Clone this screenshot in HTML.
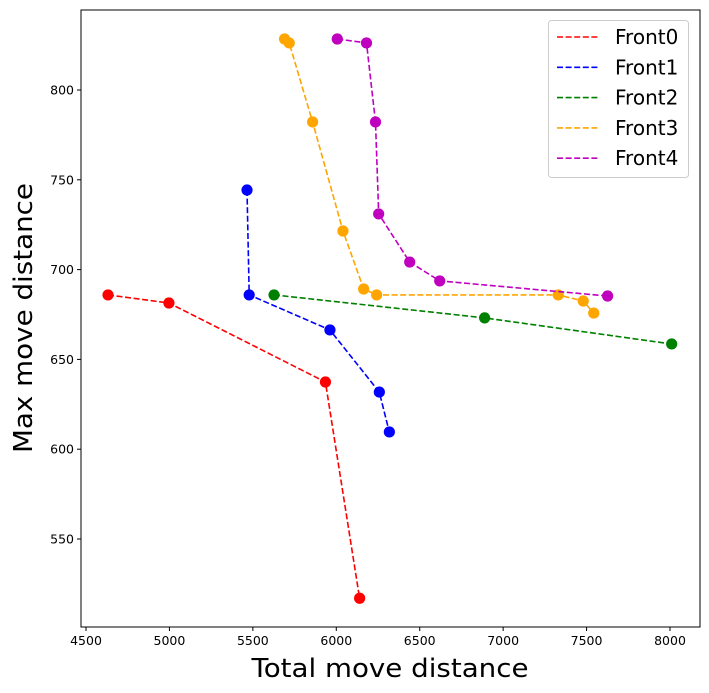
<!DOCTYPE html>
<html><head><meta charset="utf-8"><style>
body{margin:0;background:#fff;}
svg{display:block;font-family:"DejaVu Sans","Liberation Sans",sans-serif;}
</style></head><body>
<svg id="chart" width="709" height="693" viewBox="0 0 709 693" xmlns="http://www.w3.org/2000/svg">
<rect x="0" y="0" width="709" height="693" fill="#fff"/>
<g id="series"></g>
<g id="axes"></g>
</svg>
<script>
const xTicks=[4500,5000,5500,6000,6500,7000,7500,8000];
const yTicks=[550,600,650,700,750,800];
const seriesNames=["Front0","Front1","Front2","Front3","Front4"];
const seriesColors=["#ff0000","#0000ff","#008000","#ffa500","#bf00bf"];
const front0X=[4632,4997,5935,6140];
const front0Y=[685.9,681.4,637.4,517];
const front1X=[5465,5478,5962,6258,6318];
const front1Y=[744.3,685.9,666.4,631.8,609.6];
const front2X=[5627,6889,8010];
const front2Y=[685.9,673.1,658.6];
const front3X=[5690,5718,5858,6040,6164,6242,7330,7480,7543];
const front3Y=[828.4,826.2,782.2,721.5,689.2,685.9,685.9,682.5,675.8];
const front4X=[6006,6181,6235,6254,6440,6620,7626];
const front4Y=[828.4,826.2,782.2,731,704.2,693.7,685.3];

const NS="http://www.w3.org/2000/svg";
const L=81,R=700,T=10,B=627;
function x(v){return 86+(v-4500)*(584/3500);}
function y(v){return 90+(800-v)*(449/250);}
function mk(tag,attrs,parent){const e=document.createElementNS(NS,tag);for(const k in attrs)e.setAttribute(k,attrs[k]);parent.appendChild(e);return e;}

const sg=document.getElementById('series');
const xs=[front0X,front1X,front2X,front3X,front4X];
const ys=[front0Y,front1Y,front2Y,front3Y,front4Y];
for(let s=0;s<5;s++){
  const g=mk('g',{},sg);
  
  
  const pts=xs[s].map((v,i)=>x(v).toFixed(1)+','+y(ys[s][i]).toFixed(1)).join(' ');
  const pl=mk('polyline',{points:pts,fill:'none',stroke:seriesColors[s],'stroke-width':1.6,'stroke-dasharray':'6,2.6'},g);
  
  
  xs[s].forEach((v,i)=>{
    const c=mk('circle',{cx:x(v),cy:y(ys[s][i]),r:5.6,fill:seriesColors[s]},g);
    
    
  });
}

const ag=document.getElementById('axes');
const frame=mk('rect',{x:L,y:T,width:R-L,height:B-T,fill:'none',stroke:'#000','stroke-width':1},ag);


xTicks.forEach(v=>{
  mk('line',{x1:x(v),x2:x(v),y1:B,y2:B+4,stroke:'#000'},ag);
  const t=mk('text',{x:x(v),y:B+18,'font-size':12.5,'text-anchor':'middle'},ag);
  t.textContent=v;
  
  
});
yTicks.forEach(v=>{
  mk('line',{x1:L,x2:L-4,y1:y(v),y2:y(v),stroke:'#000'},ag);
  const t=mk('text',{x:L-7,y:y(v)+4.5,'font-size':12.5,'text-anchor':'end'},ag);
  t.textContent=v;
  
  
});
const xt=mk('text',{x:390,y:677,'font-size':26,'text-anchor':'middle',textLength:277,lengthAdjust:'spacingAndGlyphs'},ag);
xt.textContent='Total move distance';


const yt=mk('text',{x:0,y:0,'font-size':26,'text-anchor':'middle',transform:'translate(32,318) rotate(-90)',textLength:270,lengthAdjust:'spacingAndGlyphs'},ag);
yt.textContent='Max move distance';



const lg=mk('g',{},ag);


mk('rect',{x:548.5,y:20.5,width:140,height:157,rx:3,fill:'#fff','fill-opacity':0.8,stroke:'#ccc'},lg);
seriesNames.forEach((n,i)=>{
  const yy=37+i*30.3;
  mk('line',{x1:557,x2:598,y1:yy,y2:yy,stroke:seriesColors[i],'stroke-width':1.6,'stroke-dasharray':'6,2.6'},lg);
  const t=mk('text',{x:615,y:yy+7,'font-size':20},lg);
  t.textContent=n;
  
  
});
</script>
</body></html>
